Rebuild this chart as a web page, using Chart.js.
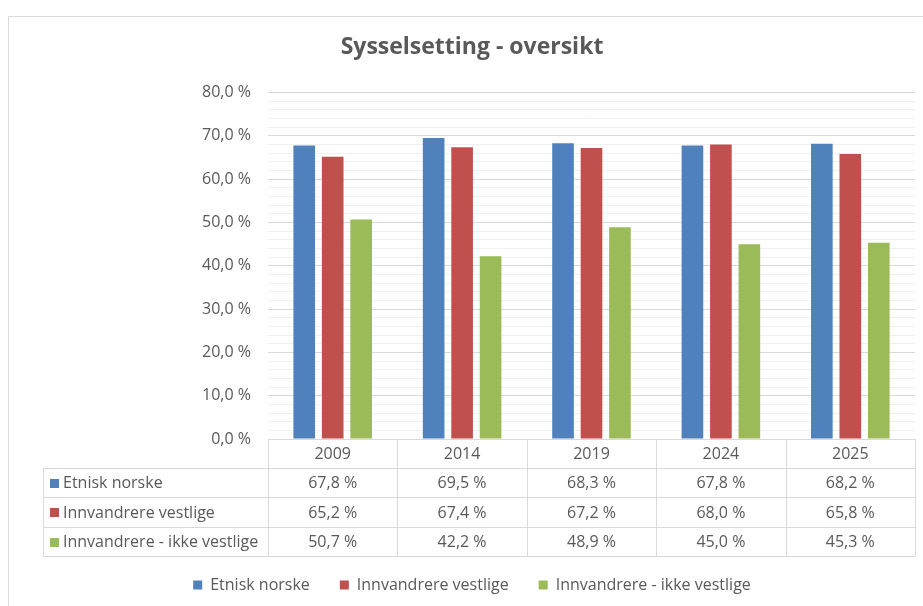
<!DOCTYPE html>
<html lang="no">
<head>
  <meta charset="UTF-8">
  <title>Sysselsetting - oversikt</title>
  <script src="https://cdn.jsdelivr.net/npm/chart.js"></script>
  <style>
    html, body { margin: 0; padding: 0; background: #fff; }
    #wrap { width: 923px; height: 606px; position: relative; }
  </style>
</head>
<body>
  <div id="wrap"><canvas id="chart"></canvas></div>

  <script>
    // data
    const years = ['2009', '2014', '2019', '2024', '2025'];
    const etniskNorske = [67.8, 69.5, 68.3, 67.8, 68.2];
    const vestlige = [65.2, 67.4, 67.2, 68.0, 65.8];
    const ikkeVestlige = [50.7, 42.2, 48.9, 45.0, 45.3];
    const seriesNames = ['Etnisk norske', 'Innvandrere vestlige', 'Innvandrere - ikke vestlige'];

    const colors = ['#4F81BD', '#C0504D', '#9BBB59'];
    const textColor = '#595959';
    const lineColor = '#d9d9d9';
    const font = '"Open Sans", "Noto Sans", sans-serif';

    const pct = v => v.toFixed(1).replace('.', ',') + ' %';

    // data table under the plot + the chart frame
    const dataTable = {
      id: 'dataTable',
      afterDraw(chart) {
        const { ctx, chartArea: a } = chart;
        const all = [etniskNorske, vestlige, ikkeVestlige];
        const colW = (a.right - a.left) / years.length;
        const labelLeft = 43;
        const top = Math.round(a.bottom);
        const rows = [top, top + 29, top + 58, top + 88, top + 117];

        ctx.save();
        ctx.strokeStyle = lineColor;
        ctx.lineWidth = 1;
        ctx.beginPath();
        // horizontal lines
        ctx.moveTo(a.left, rows[0] + 0.5); ctx.lineTo(a.right, rows[0] + 0.5);
        for (let r = 1; r < rows.length; r++) {
          ctx.moveTo(labelLeft, rows[r] + 0.5); ctx.lineTo(a.right, rows[r] + 0.5);
        }
        // vertical lines
        ctx.moveTo(labelLeft + 0.5, rows[1]); ctx.lineTo(labelLeft + 0.5, rows[4]);
        for (let c = 0; c <= years.length; c++) {
          const x = Math.round(a.left + c * colW) + 0.5;
          ctx.moveTo(x, rows[0]); ctx.lineTo(x, rows[4]);
        }
        ctx.stroke();

        // chart frame (top and left edge)
        ctx.beginPath();
        ctx.moveTo(8.5, chart.height); ctx.lineTo(8.5, 16.5); ctx.lineTo(chart.width, 16.5);
        ctx.stroke();

        ctx.fillStyle = textColor;
        ctx.font = '16px ' + font;
        ctx.textBaseline = 'middle';
        ctx.textAlign = 'center';
        years.forEach((y, i) => {
          const cx = chart.scales.x.getPixelForValue(i);
          ctx.fillText(y, cx, (rows[0] + rows[1]) / 2 + 1);
          all.forEach((s, k) => {
            ctx.fillText(pct(s[i]), cx, (rows[k + 1] + rows[k + 2]) / 2 + 1);
          });
        });
        ctx.textAlign = 'left';
        seriesNames.forEach((n, k) => {
          const cy = (rows[k + 1] + rows[k + 2]) / 2;
          ctx.fillStyle = colors[k];
          ctx.fillRect(50, Math.round(cy - 4), 9, 9);
          ctx.fillStyle = textColor;
          ctx.fillText(n, 63, cy + 1);
        });
        ctx.restore();
      }
    };

    new Chart(document.getElementById('chart'), {
      type: 'bar',
      data: {
        labels: years,
        datasets: [etniskNorske, vestlige, ikkeVestlige].map((d, i) => ({
          label: seriesNames[i],
          data: d,
          backgroundColor: colors[i],
          categoryPercentage: 0.66,
          barPercentage: 0.76
        }))
      },
      options: {
        responsive: true,
        maintainAspectRatio: false,
        animation: false,
        layout: { padding: { left: 21, right: 0, top: 0, bottom: 3 } },
        plugins: {
          title: {
            display: true,
            text: 'Sysselsetting - oversikt',
            color: textColor,
            font: { family: font, size: 23, weight: 'bold' },
            padding: { top: 34, bottom: 31 }
          },
          legend: {
            position: 'bottom',
            labels: {
              color: textColor,
              font: { family: font, size: 16 },
              boxWidth: 9,
              boxHeight: 9,
              padding: 30
            }
          },
          tooltip: { enabled: false }
        },
        scales: {
          x: {
            grid: { display: false },
            border: { display: false },
            ticks: { display: false },
            afterFit: s => { s.height = 108; }
          },
          y: {
            min: 0,
            max: 80,
            border: { display: false },
            grid: {
              drawTicks: false,
              color: c => (c.tick && c.tick.value % 10 === 0) ? lineColor : '#f0f0f0'
            },
            ticks: {
              stepSize: 2,
              autoSkip: false,
              padding: 17,
              color: textColor,
              font: { family: font, size: 16 },
              callback: v => (v % 10 === 0 ? pct(v) : '')
            },
            afterFit: s => { s.width = 247; }
          },
          y2: {
            position: 'right',
            display: true,
            grid: { display: false },
            border: { display: false },
            ticks: { display: false },
            afterFit: s => { s.width = 8; }
          }
        }
      },
      plugins: [dataTable]
    });
  </script>
</body>
</html>
